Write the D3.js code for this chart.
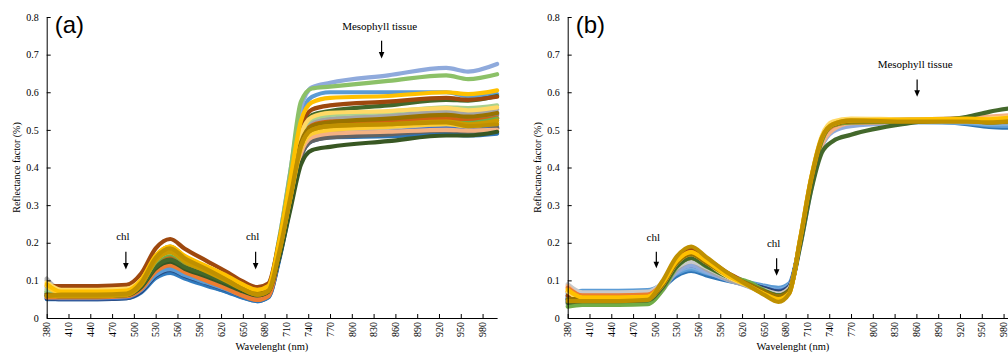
<!DOCTYPE html>
<html>
<head>
<meta charset="utf-8">
<script src="https://cdn.jsdelivr.net/npm/d3@7"></script>
<style>
  body { margin: 0; background: #fff; }
  svg text { font-family: "Liberation Serif", "DejaVu Serif", serif; fill: #000; }
  svg text.tag { font-family: "Liberation Sans", Arial, sans-serif; }
</style>
</head>
<body>
<div id="app"></div>
<script>
// wavelength sampling points (nm)
const wavelengths = [380, 400, 450, 490, 510, 530, 550, 570, 600, 630, 650, 670, 685, 700, 715, 730, 745, 770, 850, 930, 960, 1000];
const xTickValues = [380, 410, 440, 470, 500, 530, 560, 590, 620, 650, 680, 710, 740, 770, 800, 830, 860, 890, 920, 950, 980];
const yTickValues = [0, 0.1, 0.2, 0.3, 0.4, 0.5, 0.6, 0.7, 0.8];

// (a) raw spectra
const colorsA = ["#327DC2", "#2E75B6", "#264478", "#4472C4", "#5B9BD5", "#8FAADC", "#698ED0",
  "#636363", "#848484", "#A5A5A5", "#B7B7B7", "#F4B183", "#ED7D31", "#D26012",
  "#385723", "#43682B", "#70AD47", "#8CC168", "#A9D18E", "#9E480E",
  "#FFD966", "#FFCD33", "#997300", "#CC9A00", "#FFC000", "#BF9000"];
const spectraA = [
  [0.05,0.05,0.05,0.053,0.068,0.106,0.12,0.105,0.086,0.068,0.054,0.045,0.055,0.158,0.302,0.441,0.485,0.495,0.50,0.505,0.50,0.505],
  [0.058,0.055,0.055,0.058,0.073,0.111,0.125,0.11,0.089,0.069,0.055,0.045,0.055,0.154,0.293,0.428,0.47,0.48,0.483,0.488,0.485,0.49],
  [0.052,0.05,0.05,0.053,0.07,0.112,0.128,0.112,0.093,0.073,0.059,0.05,0.06,0.16,0.301,0.437,0.48,0.49,0.495,0.50,0.497,0.505],
  [0.055,0.052,0.052,0.055,0.074,0.118,0.135,0.118,0.097,0.076,0.06,0.05,0.06,0.163,0.307,0.446,0.49,0.50,0.503,0.508,0.505,0.51],
  [0.06,0.055,0.055,0.058,0.075,0.115,0.13,0.114,0.094,0.074,0.06,0.05,0.06,0.188,0.364,0.534,0.588,0.60,0.60,0.60,0.59,0.595],
  [0.08,0.065,0.065,0.068,0.092,0.149,0.17,0.148,0.125,0.10,0.082,0.07,0.08,0.209,0.386,0.558,0.613,0.625,0.645,0.665,0.655,0.675],
  [0.065,0.06,0.06,0.063,0.087,0.144,0.165,0.143,0.118,0.092,0.073,0.06,0.07,0.176,0.325,0.469,0.515,0.525,0.53,0.54,0.535,0.545],
  [0.06,0.058,0.058,0.061,0.081,0.128,0.145,0.127,0.106,0.084,0.068,0.058,0.068,0.164,0.299,0.429,0.47,0.48,0.488,0.498,0.495,0.505],
  [0.06,0.058,0.058,0.061,0.082,0.132,0.15,0.131,0.107,0.084,0.066,0.055,0.065,0.171,0.32,0.464,0.51,0.52,0.525,0.532,0.528,0.54],
  [0.1,0.07,0.07,0.073,0.093,0.142,0.16,0.141,0.119,0.096,0.079,0.068,0.078,0.184,0.331,0.475,0.519,0.53,0.538,0.548,0.545,0.555],
  [0.105,0.075,0.075,0.078,0.098,0.147,0.165,0.146,0.123,0.10,0.083,0.072,0.082,0.179,0.316,0.449,0.49,0.50,0.505,0.515,0.51,0.52],
  [0.075,0.06,0.06,0.063,0.085,0.136,0.155,0.135,0.111,0.087,0.07,0.058,0.068,0.166,0.304,0.438,0.48,0.49,0.495,0.50,0.498,0.50],
  [0.055,0.055,0.055,0.058,0.077,0.123,0.14,0.122,0.099,0.076,0.059,0.048,0.058,0.165,0.314,0.459,0.505,0.515,0.52,0.528,0.52,0.53],
  [0.065,0.062,0.062,0.065,0.088,0.14,0.16,0.139,0.115,0.09,0.072,0.06,0.07,0.176,0.323,0.467,0.512,0.522,0.525,0.53,0.525,0.532],
  [0.06,0.058,0.058,0.061,0.082,0.132,0.15,0.131,0.11,0.087,0.071,0.06,0.07,0.159,0.285,0.408,0.446,0.455,0.47,0.485,0.485,0.495],
  [0.065,0.06,0.06,0.063,0.085,0.136,0.155,0.135,0.115,0.092,0.076,0.065,0.075,0.186,0.341,0.492,0.539,0.55,0.565,0.58,0.578,0.59],
  [0.07,0.065,0.065,0.068,0.092,0.149,0.17,0.148,0.126,0.101,0.084,0.072,0.082,0.18,0.319,0.453,0.495,0.505,0.512,0.52,0.518,0.53],
  [0.07,0.06,0.06,0.063,0.09,0.152,0.175,0.151,0.13,0.105,0.087,0.075,0.085,0.21,0.383,0.575,0.61,0.615,0.63,0.645,0.635,0.648],
  [0.075,0.07,0.07,0.073,0.097,0.154,0.175,0.153,0.131,0.107,0.09,0.078,0.088,0.194,0.341,0.485,0.529,0.54,0.548,0.56,0.558,0.565],
  [0.085,0.085,0.085,0.088,0.118,0.185,0.21,0.184,0.152,0.12,0.097,0.082,0.092,0.203,0.357,0.507,0.554,0.565,0.575,0.585,0.58,0.588],
  [0.095,0.075,0.075,0.078,0.102,0.159,0.18,0.158,0.131,0.103,0.083,0.07,0.08,0.189,0.341,0.488,0.534,0.545,0.55,0.558,0.552,0.56],
  [0.085,0.065,0.065,0.068,0.096,0.161,0.185,0.16,0.133,0.105,0.084,0.07,0.08,0.178,0.315,0.448,0.49,0.50,0.508,0.515,0.51,0.52],
  [0.062,0.06,0.06,0.063,0.094,0.164,0.19,0.163,0.135,0.105,0.083,0.068,0.078,0.181,0.326,0.466,0.51,0.52,0.53,0.54,0.535,0.545],
  [0.058,0.058,0.058,0.061,0.088,0.152,0.175,0.15,0.124,0.096,0.076,0.062,0.072,0.174,0.317,0.456,0.50,0.51,0.515,0.522,0.515,0.525],
  [0.09,0.07,0.07,0.073,0.101,0.166,0.19,0.165,0.138,0.11,0.089,0.075,0.085,0.203,0.365,0.524,0.573,0.585,0.59,0.60,0.595,0.605],
  [0.058,0.062,0.062,0.065,0.094,0.16,0.185,0.159,0.13,0.099,0.077,0.062,0.072,0.174,0.317,0.456,0.50,0.51,0.515,0.52,0.51,0.515]
];

// (b) normalised spectra
const colorsB = ["#2E75B6", "#5B9BD5", "#7CAFDD", "#4472C4", "#255E91", "#264478", "#8FAADC",
  "#636363", "#A5A5A5", "#C9C9C9", "#F4B183", "#ED7D31", "#D26012", "#9E480E",
  "#70AD47", "#43682B", "#FFD966", "#997300", "#FFC000", "#BF9000"];
const spectraB = [
  [0.05,0.062,0.062,0.064,0.081,0.112,0.125,0.114,0.099,0.087,0.078,0.072,0.086,0.198,0.352,0.468,0.508,0.522,0.525,0.515,0.508,0.505],
  [0.065,0.072,0.072,0.074,0.089,0.118,0.13,0.12,0.105,0.094,0.086,0.08,0.092,0.2,0.355,0.47,0.508,0.52,0.522,0.518,0.512,0.51],
  [0.06,0.065,0.065,0.067,0.086,0.121,0.135,0.122,0.105,0.092,0.082,0.075,0.088,0.195,0.348,0.462,0.50,0.515,0.52,0.52,0.515,0.515],
  [0.055,0.065,0.065,0.067,0.088,0.125,0.14,0.127,0.106,0.091,0.08,0.072,0.085,0.198,0.352,0.468,0.508,0.52,0.523,0.525,0.52,0.522],
  [0.05,0.06,0.06,0.062,0.086,0.128,0.145,0.13,0.107,0.09,0.077,0.068,0.082,0.2,0.358,0.472,0.51,0.522,0.525,0.53,0.528,0.535],
  [0.045,0.062,0.062,0.064,0.088,0.132,0.15,0.134,0.11,0.092,0.08,0.07,0.084,0.2,0.356,0.47,0.51,0.52,0.522,0.525,0.525,0.53],
  [0.055,0.052,0.052,0.054,0.078,0.122,0.14,0.124,0.101,0.084,0.071,0.062,0.076,0.19,0.34,0.455,0.495,0.51,0.52,0.525,0.522,0.528],
  [0.04,0.045,0.045,0.047,0.078,0.133,0.155,0.135,0.11,0.09,0.076,0.065,0.08,0.205,0.365,0.478,0.518,0.528,0.528,0.525,0.522,0.525],
  [0.035,0.038,0.038,0.04,0.072,0.128,0.15,0.13,0.103,0.082,0.066,0.055,0.07,0.2,0.36,0.475,0.515,0.525,0.525,0.522,0.52,0.52],
  [0.09,0.068,0.068,0.07,0.093,0.134,0.15,0.135,0.108,0.089,0.075,0.065,0.08,0.2,0.356,0.47,0.51,0.52,0.522,0.528,0.525,0.53],
  [0.085,0.058,0.058,0.06,0.09,0.144,0.165,0.146,0.112,0.088,0.071,0.058,0.072,0.198,0.35,0.46,0.50,0.518,0.522,0.532,0.535,0.54],
  [0.08,0.06,0.06,0.062,0.09,0.14,0.16,0.142,0.11,0.088,0.072,0.06,0.075,0.205,0.362,0.475,0.51,0.522,0.525,0.528,0.525,0.53],
  [0.07,0.055,0.055,0.057,0.088,0.143,0.165,0.145,0.11,0.086,0.069,0.056,0.07,0.203,0.36,0.473,0.512,0.52,0.522,0.525,0.522,0.53],
  [0.06,0.05,0.05,0.052,0.09,0.158,0.185,0.16,0.12,0.091,0.071,0.055,0.07,0.208,0.368,0.478,0.516,0.525,0.527,0.53,0.527,0.53],
  [0.03,0.035,0.035,0.037,0.073,0.135,0.16,0.138,0.11,0.095,0.074,0.06,0.074,0.202,0.36,0.472,0.512,0.52,0.522,0.525,0.52,0.525],
  [0.04,0.045,0.045,0.047,0.08,0.137,0.16,0.139,0.11,0.088,0.072,0.06,0.074,0.192,0.338,0.44,0.47,0.487,0.518,0.535,0.548,0.56],
  [0.07,0.05,0.05,0.052,0.086,0.146,0.17,0.148,0.11,0.084,0.064,0.05,0.066,0.212,0.372,0.485,0.522,0.53,0.528,0.528,0.53,0.535],
  [0.05,0.05,0.05,0.052,0.086,0.146,0.17,0.148,0.114,0.089,0.071,0.058,0.072,0.205,0.363,0.476,0.513,0.522,0.523,0.525,0.52,0.525],
  [0.075,0.055,0.055,0.057,0.091,0.151,0.175,0.153,0.113,0.085,0.065,0.05,0.066,0.21,0.37,0.48,0.515,0.525,0.527,0.53,0.528,0.535],
  [0.045,0.045,0.045,0.048,0.097,0.163,0.19,0.163,0.12,0.085,0.062,0.043,0.065,0.21,0.37,0.48,0.515,0.525,0.522,0.522,0.52,0.525]
];

const W = 1008, H = 355;
const svg = d3.select("#app").append("svg").attr("width", W).attr("height", H);

const y = d3.scaleLinear().domain([0, 0.8]).range([318, 17]);

function panel(left, tag, colors, spectra, notes) {
  const x = d3.scaleLinear().domain([380, 1000]).range([left, left + 450.4]);
  const g = svg.append("g");

  // lines
  const line = d3.line()
    .x((d, i) => x(wavelengths[i]))
    .y(d => y(d))
    .curve(d3.curveMonotoneX);
  g.selectAll("path.spec")
    .data(spectra)
    .enter()
    .append("path")
      .attr("class", "spec")
      .attr("d", line)
      .attr("fill", "none")
      .attr("stroke", (d, i) => colors[i])
      .attr("stroke-width", 4.2)
      .attr("stroke-linecap", "round")
      .attr("stroke-linejoin", "round");

  // axes, ticks inside
  const xAxis = g.append("g")
    .attr("transform", `translate(0,${y(0)})`)
    .call(d3.axisBottom(x).tickValues(xTickValues).tickSize(-4).tickSizeOuter(0).tickPadding(4).tickFormat(d3.format("d")));
  xAxis.attr("font-family", null);
  xAxis.selectAll("text")
    .attr("font-size", 10)
    .attr("text-anchor", "end")
    .attr("transform", "rotate(-90)")
    .attr("x", -4).attr("y", 0).attr("dy", "0.32em");

  const yAxis = g.append("g")
    .attr("transform", `translate(${left},0)`)
    .call(d3.axisLeft(y).tickValues(yTickValues).tickSize(-4).tickSizeOuter(0).tickPadding(8)
      .tickFormat(d => d === 0 ? "0" : d3.format(".1f")(d)));
  yAxis.attr("font-family", null);
  yAxis.selectAll("text").attr("font-size", 10);
  g.selectAll(".domain, .tick line").attr("stroke", "#000").attr("stroke-width", 1);

  // titles
  g.append("text")
    .attr("x", (x.range()[0] + x.range()[1]) / 2).attr("y", 350)
    .attr("text-anchor", "middle").attr("font-size", 10.5)
    .text("Wavelenght  (nm)");
  g.append("text")
    .attr("transform", `translate(${left - 27},${(y(0) + y(0.8)) / 2}) rotate(-90)`)
    .attr("text-anchor", "middle").attr("font-size", 10)
    .text("Reflectance  factor  (%)");
  g.append("text")
    .attr("class", "tag")
    .attr("x", left + 8).attr("y", 33)
    .attr("font-size", 24)
    .text(tag);

  // annotations with arrows
  notes.forEach(n => {
    const ax = x(n.wl);
    g.append("text")
      .attr("x", ax - n.dx).attr("y", y(n.ty))
      .attr("text-anchor", "middle").attr("font-size", 11)
      .text(n.label);
    const y1 = y(n.a1), y2 = y(n.a2);
    g.append("line")
      .attr("x1", ax).attr("x2", ax).attr("y1", y1).attr("y2", y2 - 4)
      .attr("stroke", "#000").attr("stroke-width", 1.2);
    g.append("path")
      .attr("d", `M${ax - 2.8},${y2 - 6.5}L${ax + 2.8},${y2 - 6.5}L${ax},${y2}Z`)
      .attr("fill", "#000");
  });
}

panel(46.7, "(a)", colorsA, spectraA, [
  { label: "chl", wl: 489, ty: 0.206, a1: 0.176, a2: 0.129, dx: 3 },
  { label: "chl", wl: 667.6, ty: 0.206, a1: 0.176, a2: 0.129, dx: 3 },
  { label: "Mesophyll tissue", wl: 841, ty: 0.765, a1: 0.737, a2: 0.69, dx: 2 }
]);
panel(567.7, "(b)", colorsB, spectraB, [
  { label: "chl", wl: 502, ty: 0.205, a1: 0.176, a2: 0.132, dx: 3 },
  { label: "chl", wl: 667.6, ty: 0.188, a1: 0.159, a2: 0.112, dx: 3 },
  { label: "Mesophyll tissue", wl: 861, ty: 0.664, a1: 0.634, a2: 0.588, dx: 2 }
]);
</script>
</body>
</html>
